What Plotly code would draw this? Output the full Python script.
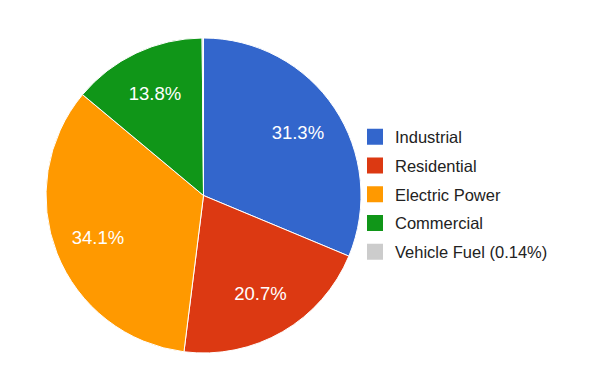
import plotly.graph_objects as go

labels = ["Industrial", "Residential", "Electric Power", "Commercial", "Vehicle Fuel (0.14%)"]
values = [31.3, 20.7, 34.1, 13.8, 0.14]
slice_text = ["31.3%", "20.7%", "34.1%", "13.8%", ""]
colors = ["#3366cc", "#dc3912", "#ff9900", "#109618", "#cccccc"]

W, H = 596, 366
OFF = 8  # page body margin compensation
dom = dict(x=[(46 - OFF) / W, (361 - OFF) / W],
           y=[(13 + OFF) / H, (328 + OFF) / H])

fig = go.Figure()
# coloured slices
fig.add_trace(go.Pie(
    labels=labels, values=values, textinfo="none",
    sort=False, direction="clockwise", rotation=0,
    marker=dict(colors=colors, line=dict(color="white", width=1)),
    domain=dom, showlegend=False, hoverinfo="label+percent",
))
# transparent ring carrying the percentage labels
fig.add_trace(go.Pie(
    labels=labels, values=values, text=slice_text, hole=0.44,
    textinfo="text", textposition="inside", insidetextorientation="horizontal",
    sort=False, direction="clockwise", rotation=0,
    marker=dict(colors=["rgba(0,0,0,0)"] * len(labels), line=dict(width=0)),
    textfont=dict(family="Liberation Sans, Arial", size=18.5, color="white"),
    domain=dom, showlegend=False, hoverinfo="skip",
))
# legend entries
for name, col in zip(labels, colors):
    fig.add_trace(go.Scatter(
        x=[None], y=[None], mode="markers", name=name, legendgroup=name,
        marker=dict(symbol="square", size=16, color=col, line=dict(width=0)),
    ))

fig.update_layout(
    width=W, height=H, margin=dict(l=0, r=0, t=0, b=0),
    paper_bgcolor="white", plot_bgcolor="rgba(0,0,0,0)",
    xaxis=dict(visible=False), yaxis=dict(visible=False),
    showlegend=True,
    legend=dict(x=(355 - OFF) / W, xanchor="left", y=(H - (194.5 - OFF)) / H, yanchor="middle",
                bgcolor="rgba(0,0,0,0)",
                font=dict(family="Liberation Sans, Arial", size=16.5, color="#222222"),
                traceorder="grouped", tracegroupgap=4.3, itemsizing="trace"),
)
fig.write_html("out.html")
